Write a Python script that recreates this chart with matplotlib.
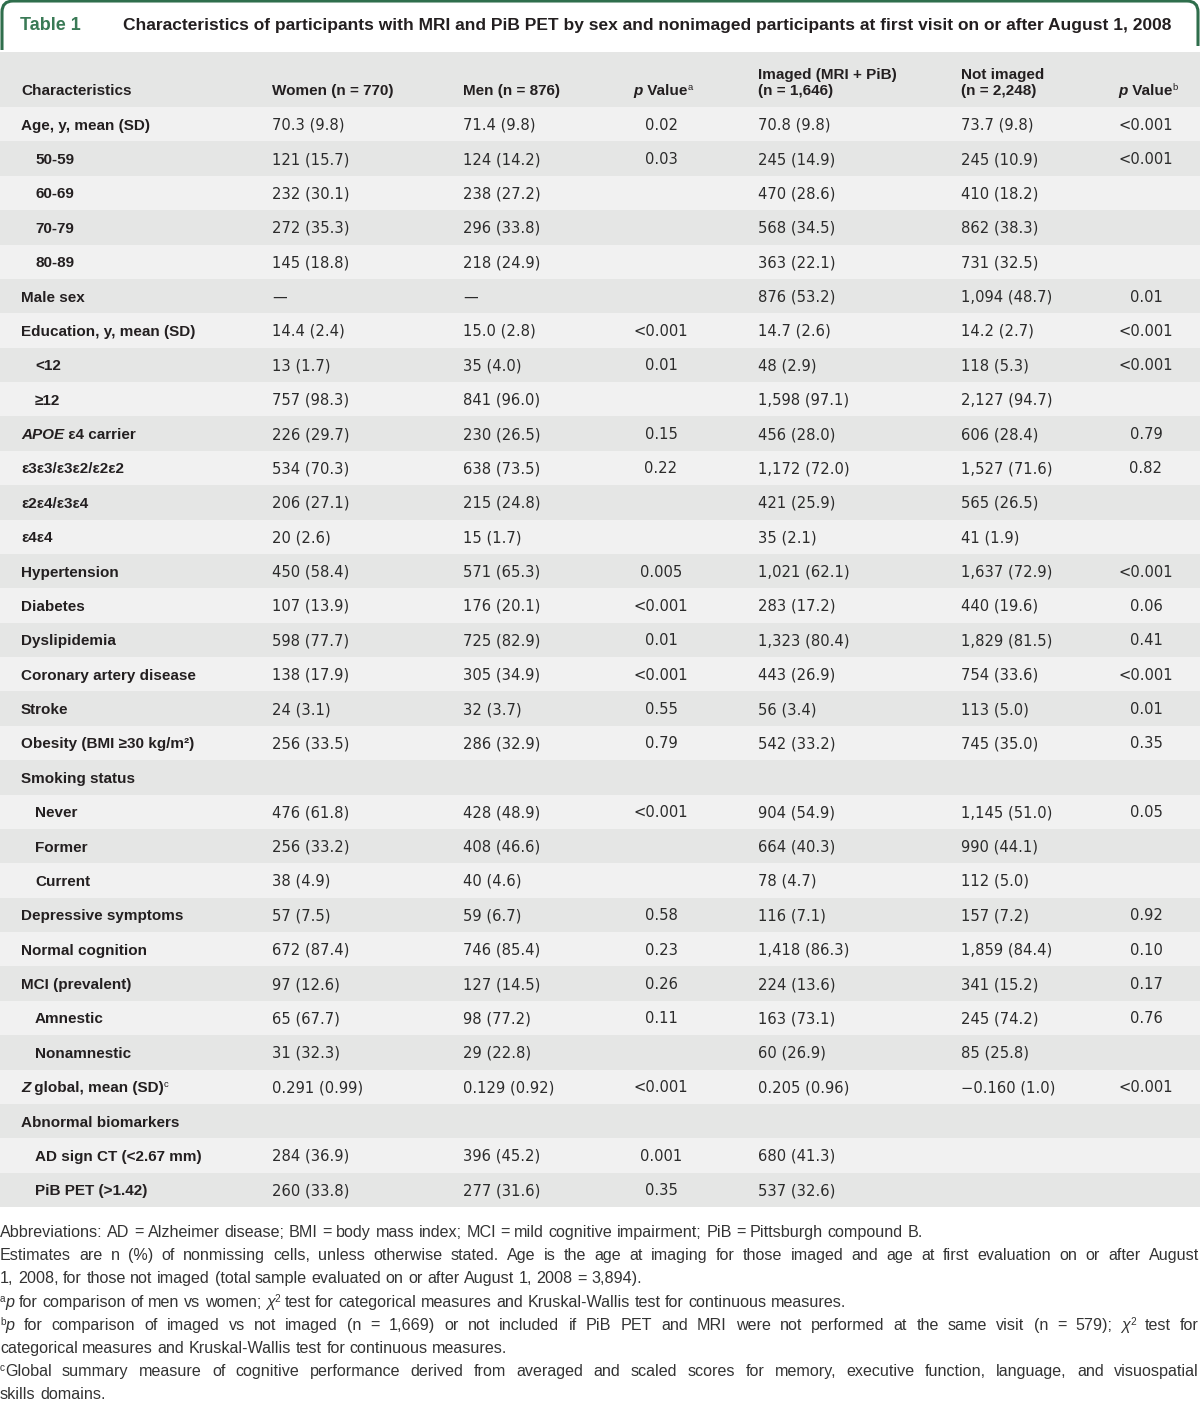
import matplotlib
matplotlib.use("Agg")
import matplotlib.pyplot as plt
from matplotlib.path import Path
from matplotlib.patches import PathPatch, Rectangle

plt.rcParams['font.family'] = ['Liberation Sans', 'DejaVu Sans']

## 1. Data
table_no = "Table 1"
title = ("Characteristics of participants with MRI and PiB PET by sex and nonimaged "
         "participants at first visit on or after August 1, 2008")

labels = ["Age, y, mean (SD)", "50-59", "60-69", "70-79", "80-89", "Male sex",
          "Education, y, mean (SD)", "<12", "≥12", "APOE ε4 carrier",
          "ε3ε3/ε3ε2/ε2ε2", "ε2ε4/ε3ε4", "ε4ε4", "Hypertension", "Diabetes",
          "Dyslipidemia", "Coronary artery disease", "Stroke",
          "Obesity (BMI ≥30 kg/m²)", "Smoking status", "Never", "Former", "Current",
          "Depressive symptoms", "Normal cognition", "MCI (prevalent)", "Amnestic",
          "Nonamnestic", "Z global, mean (SD)", "Abnormal biomarkers",
          "AD sign CT (<2.67 mm)", "PiB PET (>1.42)"]
indented = ["50-59", "60-69", "70-79", "80-89", "<12", "≥12", "Never", "Former",
            "Current", "Amnestic", "Nonamnestic", "AD sign CT (<2.67 mm)", "PiB PET (>1.42)"]

women = ["70.3 (9.8)", "121 (15.7)", "232 (30.1)", "272 (35.3)", "145 (18.8)", "—",
         "14.4 (2.4)", "13 (1.7)", "757 (98.3)", "226 (29.7)", "534 (70.3)", "206 (27.1)",
         "20 (2.6)", "450 (58.4)", "107 (13.9)", "598 (77.7)", "138 (17.9)", "24 (3.1)",
         "256 (33.5)", "", "476 (61.8)", "256 (33.2)", "38 (4.9)", "57 (7.5)",
         "672 (87.4)", "97 (12.6)", "65 (67.7)", "31 (32.3)", "0.291 (0.99)", "",
         "284 (36.9)", "260 (33.8)"]
men = ["71.4 (9.8)", "124 (14.2)", "238 (27.2)", "296 (33.8)", "218 (24.9)", "—",
       "15.0 (2.8)", "35 (4.0)", "841 (96.0)", "230 (26.5)", "638 (73.5)", "215 (24.8)",
       "15 (1.7)", "571 (65.3)", "176 (20.1)", "725 (82.9)", "305 (34.9)", "32 (3.7)",
       "286 (32.9)", "", "428 (48.9)", "408 (46.6)", "40 (4.6)", "59 (6.7)",
       "746 (85.4)", "127 (14.5)", "98 (77.2)", "29 (22.8)", "0.129 (0.92)", "",
       "396 (45.2)", "277 (31.6)"]
p_sex = ["0.02", "0.03", "", "", "", "", "<0.001", "0.01", "", "0.15", "0.22", "", "",
         "0.005", "<0.001", "0.01", "<0.001", "0.55", "0.79", "", "<0.001", "", "",
         "0.58", "0.23", "0.26", "0.11", "", "<0.001", "", "0.001", "0.35"]
imaged = ["70.8 (9.8)", "245 (14.9)", "470 (28.6)", "568 (34.5)", "363 (22.1)",
          "876 (53.2)", "14.7 (2.6)", "48 (2.9)", "1,598 (97.1)", "456 (28.0)",
          "1,172 (72.0)", "421 (25.9)", "35 (2.1)", "1,021 (62.1)", "283 (17.2)",
          "1,323 (80.4)", "443 (26.9)", "56 (3.4)", "542 (33.2)", "", "904 (54.9)",
          "664 (40.3)", "78 (4.7)", "116 (7.1)", "1,418 (86.3)", "224 (13.6)",
          "163 (73.1)", "60 (26.9)", "0.205 (0.96)", "", "680 (41.3)", "537 (32.6)"]
not_imaged = ["73.7 (9.8)", "245 (10.9)", "410 (18.2)", "862 (38.3)", "731 (32.5)",
              "1,094 (48.7)", "14.2 (2.7)", "118 (5.3)", "2,127 (94.7)", "606 (28.4)",
              "1,527 (71.6)", "565 (26.5)", "41 (1.9)", "1,637 (72.9)", "440 (19.6)",
              "1,829 (81.5)", "754 (33.6)", "113 (5.0)", "745 (35.0)", "",
              "1,145 (51.0)", "990 (44.1)", "112 (5.0)", "157 (7.2)", "1,859 (84.4)",
              "341 (15.2)", "245 (74.2)", "85 (25.8)", "−0.160 (1.0)", "", "", ""]
p_img = ["<0.001", "<0.001", "", "", "", "0.01", "<0.001", "<0.001", "", "0.79", "0.82",
         "", "", "<0.001", "0.06", "0.41", "<0.001", "0.01", "0.35", "", "0.05", "", "",
         "0.92", "0.10", "0.17", "0.76", "", "<0.001", "", "", ""]

# footnote lines: list of (text, style); style n=normal, i=italic, s=superscript
footnotes = [
    ([("Abbreviations: AD = Alzheimer disease; BMI = body mass index; MCI = mild cognitive "
       "impairment; PiB = Pittsburgh compound B.", "n")], False),
    ([("Estimates are n (%) of nonmissing cells, unless otherwise stated. Age is the age at "
       "imaging for those imaged and age at first evaluation on or after August", "n")], True),
    ([("1, 2008, for those not imaged (total sample evaluated on or after August 1, 2008 = 3,894).", "n")], False),
    ([("a", "s"), ("p", "i"), (" for comparison of men vs women; ", "n"), ("χ", "i"), ("2", "s"),
      (" test for categorical measures and Kruskal-Wallis test for continuous measures.", "n")], False),
    ([("b", "s"), ("p", "i"), (" for comparison of imaged vs not imaged (n = 1,669) or not included "
      "if PiB PET and MRI were not performed at the same visit (n = 579); ", "n"), ("χ", "i"),
      ("2", "s"), (" test for", "n")], True),
    ([("categorical measures and Kruskal-Wallis test for continuous measures.", "n")], False),
    ([("c", "s"), ("Global summary measure of cognitive performance derived from averaged and "
      "scaled scores for memory, executive function, language, and visuospatial", "n")], True),
    ([("skills domains.", "n")], False),
]

## 2. Layout / style
TXT = "#231f20"
VAL = "#2b2b2b"
GREEN = "#2f6e4c"
LIGHT = "#f1f1f1"
DARK = "#e5e6e5"
FS = 11
VFS = 10.6
VFONT = "DejaVu Sans"
col_x = {"women": 272, "men": 463, "p_sex": 661, "imaged": 758, "not": 961, "p_img": 1146}

fig = plt.figure(figsize=(12, 14.01), dpi=100)
ax = fig.add_axes([0, 0, 1, 1])
ax.set_xlim(0, 1200)
ax.set_ylim(1401, 0)
ax.axis("off")
renderer = fig.canvas.get_renderer()

STYLES = {
    "n": dict(fontsize=FS, fontweight="normal"),
    "b": dict(fontsize=FS, fontweight="bold"),
    "i": dict(fontsize=FS, fontstyle="italic"),
    "bi": dict(fontsize=FS, fontweight="bold", fontstyle="italic"),
    "s": dict(fontsize=FS * 0.62, fontweight="normal"),
}


def chain(x, y, segs, color=TXT):
    """Draw segments one after another on the same baseline; return end x."""
    arts = []
    for text, st in segs:
        kw = dict(STYLES[st])
        dy = -5 if st == "s" else 0
        t = ax.text(x, y + dy, text, color=color, va="baseline", ha="left", **kw)
        arts.append(t)
        x += t.get_window_extent(renderer).width
    return x, arts


# title box
r = 11
verts = [(2, 50), (2, r + 1), (2, 1), (r + 2, 1), (1198 - r, 1), (1198, 1), (1198, r + 1), (1198, 46)]
codes = [Path.MOVETO, Path.LINETO, Path.CURVE3, Path.CURVE3, Path.LINETO, Path.CURVE3, Path.CURVE3, Path.LINETO]
ax.add_patch(PathPatch(Path(verts, codes), fill=False, edgecolor=GREEN, lw=2.2))
ax.text(20, 30, table_no, color="#3a7a56", fontsize=13, fontweight="bold", va="baseline")
ax.text(123, 30, title, color=TXT, fontsize=12.5, fontweight="bold", va="baseline")

# header band
ax.add_patch(Rectangle((0, 52), 1200, 55, color=DARK, lw=0))
hy1, hy2 = 79, 95
hdr = dict(color=TXT, fontsize=FS, fontweight="bold", va="baseline")
ax.text(21, hy2, "Characteristics", **hdr)
ax.text(col_x["women"], hy2, "Women (n = 770)", **hdr)
ax.text(col_x["men"], hy2, "Men (n = 876)", **hdr)
ax.text(col_x["imaged"], hy1, "Imaged (MRI + PiB)", **hdr)
ax.text(col_x["imaged"], hy2, "(n = 1,646)", **hdr)
ax.text(col_x["not"], hy1, "Not imaged", **hdr)
ax.text(col_x["not"], hy2, "(n = 2,248)", **hdr)
for key, sup in [("p_sex", "a"), ("p_img", "b")]:
    end, arts = chain(0, hy2, [("p", "bi"), (" Value", "b"), (sup, "s")])
    shift = col_x[key] - end / 2 + 2
    for a in arts:
        a.set_x(a.get_position()[0] + shift)

# body rows
top = 107
pitch = (1207 - 107) / len(labels)
for i, lab in enumerate(labels):
    y0 = top + i * pitch
    ax.add_patch(Rectangle((0, y0), 1200, pitch, color=LIGHT if i % 2 == 0 else DARK, lw=0))
    yb = y0 + pitch / 2 + 5.5
    x = 35 if lab in indented else 21
    if lab.startswith("APOE"):
        chain(x, yb, [("APOE", "bi"), (lab[4:], "b")])
    elif lab.startswith("Z global"):
        chain(x, yb, [("Z", "bi"), (lab[1:], "b"), ("c", "s")])
    else:
        ax.text(x, yb, lab, color=TXT, fontsize=FS, fontweight="bold", va="baseline")
    for key, col in [("women", women), ("men", men), ("imaged", imaged), ("not", not_imaged)]:
        ax.text(col_x[key], yb, col[i], color=VAL, fontsize=VFS, family=VFONT, va="baseline")
    for key, col in [("p_sex", p_sex), ("p_img", p_img)]:
        ax.text(col_x[key], yb, col[i], color=VAL, fontsize=VFS, family=VFONT,
                va="baseline", ha="center")

# footnotes
FN_FS = 11.6
for st in ("n", "i"):
    STYLES[st] = dict(STYLES[st], fontsize=FN_FS)
STYLES["s"] = dict(STYLES["s"], fontsize=FN_FS * 0.62)


def width(segs):
    w = 0
    for text, st in segs:
        t = ax.text(0, 0, text, **STYLES[st])
        w += t.get_window_extent(renderer).width
        t.remove()
    return w


space_w = width([("x x", "n")]) - width([("xx", "n")])
fy = 1237
for segs, justify in footnotes:
    words = [[]]
    for text, st in segs:
        parts = text.split(" ")
        for k, p in enumerate(parts):
            if k > 0:
                words.append([])
            if p:
                words[-1].append((p, st))
    words = [w for w in words if w]
    widths = [width(w) for w in words]
    gap = (1199 - sum(widths)) / (len(words) - 1) if justify else space_w
    x = 0
    for w, ww in zip(words, widths):
        chain(x, fy, w, color="#333333")
        x += ww + gap
    fy += 23.2

fig.savefig("out.png", dpi=100, facecolor="white")
